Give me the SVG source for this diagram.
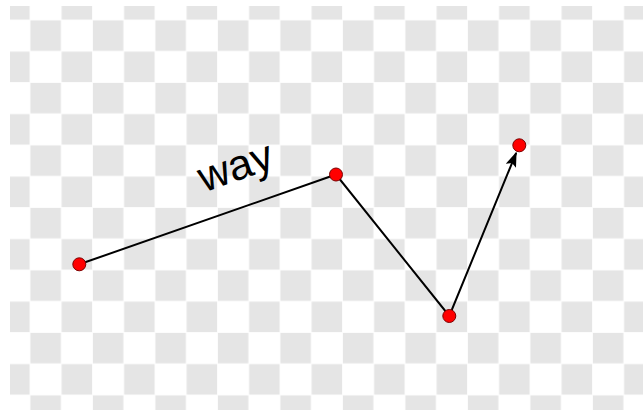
<svg xmlns="http://www.w3.org/2000/svg" width="643" height="410" viewBox="0 0 643 410">
<defs>
<style>
.edge{fill:none;stroke:#000;stroke-width:2;stroke-linejoin:miter}
.pt{fill:#ff0000;stroke:#7a0000;stroke-width:1}
.lbl{font-family:"Liberation Sans",Arial,sans-serif;font-size:43px;fill:#000}
</style>
<pattern id="checker" patternUnits="userSpaceOnUse" x="-1.25" y="-11.25" width="62.5" height="62.5">
<rect width="62.5" height="62.5" fill="#fff"/>
<rect x="0.4" y="0.4" width="30.45" height="30.45" fill="#e5e5e5"/>
<rect x="31.65" y="31.65" width="30.45" height="30.45" fill="#e5e5e5"/>
</pattern>
<marker id="arrow" viewBox="0 0 15 11" markerWidth="15" markerHeight="11" refX="14" refY="5.5" orient="auto" markerUnits="userSpaceOnUse">
<path d="M0,0 L15,5.5 L0,11 L3,5.5 z" fill="#000"/>
</marker>
</defs>
<rect width="643" height="410" fill="#fff"/>
<rect x="10" y="6" width="633" height="404" fill="url(#checker)"/>
<g id="connectors">
<path class="edge" d="M79.3,264.3 L336,174.5 L449.3,316 L516.2,152.8" marker-end="url(#arrow)"/>
<text class="lbl" transform="translate(204,192.5) rotate(-19.3)">way</text>
</g>
<g id="node-a"><circle class="pt" cx="79.3" cy="264.3" r="6.5"/></g>
<g id="node-b"><circle class="pt" cx="336" cy="174.5" r="6.5"/></g>
<g id="node-c"><circle class="pt" cx="449.3" cy="316" r="6.5"/></g>
<g id="node-d"><circle class="pt" cx="519.3" cy="145.3" r="6.5"/></g>
</svg>
